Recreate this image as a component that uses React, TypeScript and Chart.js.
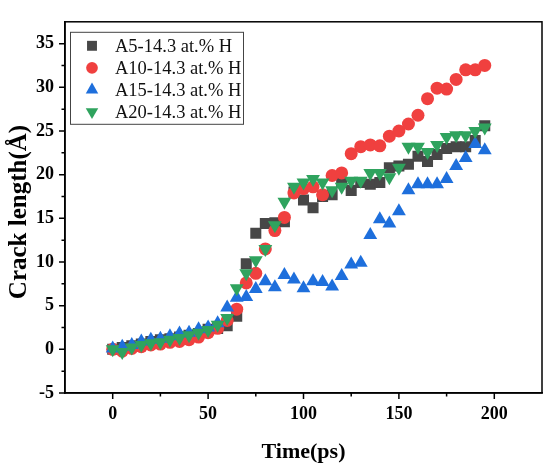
import { useEffect, useRef } from 'react';
import { Chart, registerables } from 'chart.js';

Chart.register(...registerables);

const times = [0, 5, 10, 15, 20, 25, 30, 35, 40, 45, 50, 55, 60, 65, 70, 75, 80, 85, 90, 95, 100, 105, 110, 115, 120, 125, 130, 135, 140, 145, 150, 155, 160, 165, 170, 175, 180, 185, 190, 195];

const a5 = [0.0, 0.2, 0.4, 0.6, 0.9, 1.1, 1.2, 1.4, 1.6, 1.8, 2.3, 2.4, 2.7, 3.8, 9.8, 13.3, 14.4, 14.5, 14.6, 18.0, 17.1, 16.2, 17.5, 17.7, 19.1, 18.2, 19.1, 18.9, 19.1, 20.8, 21.0, 21.2, 22.1, 21.5, 22.3, 23.0, 23.2, 23.2, 23.9, 25.6];
const a10 = [0.0, -0.2, 0.1, 0.3, 0.5, 0.6, 0.8, 0.9, 1.1, 1.4, 1.9, 2.4, 3.3, 4.6, 7.6, 8.7, 11.5, 13.6, 15.1, 17.9, 18.4, 18.6, 17.7, 19.9, 20.2, 22.4, 23.2, 23.4, 23.3, 24.4, 25.0, 25.8, 26.8, 28.7, 29.9, 29.8, 30.9, 32.0, 32.0, 32.5];
const a15 = [0.1, 0.3, 0.5, 0.9, 1.1, 1.2, 1.5, 1.8, 1.9, 2.3, 2.5, 3.0, 4.8, 5.9, 6.0, 6.9, 7.8, 7.1, 8.5, 8.0, 7.0, 7.8, 7.7, 7.2, 8.4, 9.7, 9.9, 13.1, 14.9, 14.4, 15.8, 18.2, 18.9, 18.9, 18.9, 19.5, 21.0, 21.9, 23.5, 22.8];
const a20 = [0.0, -0.3, 0.2, 0.5, 0.7, 0.8, 1.1, 1.3, 1.6, 1.9, 2.2, 2.8, 3.6, 7.0, 8.7, 10.2, 11.5, 14.2, 16.9, 18.6, 19.1, 19.5, 19.1, 18.2, 18.6, 19.3, 19.3, 20.2, 20.2, 19.7, 20.8, 23.2, 23.2, 22.6, 23.4, 24.3, 24.5, 24.5, 25.0, 25.4];

const seriesNames = ['A5-14.3 at.% H', 'A10-14.3 at.% H', 'A15-14.3 at.% H', 'A20-14.3 at.% H'];
const xTicks = [0, 50, 100, 150, 200];
const xMinorTicks = [25, 75, 125, 175];
const yTicks = [-5, 0, 5, 10, 15, 20, 25, 30, 35];
const yMinorTicks = [-2.5, 2.5, 7.5, 12.5, 17.5, 22.5, 27.5, 32.5];
const xTitle = 'Time(ps)';
const yTitle = 'Crack length(Å)';

const FONT = "'Liberation Serif', 'Times New Roman', serif";

const seriesValues = [a5, a10, a15, a20];
const seriesColors = ['#474747', '#f0403f', '#1e6fdc', '#2fa35e'];
const seriesStyles = ['rect', 'circle', 'triangle', 'triangle'];
const seriesRadius = [7.8, 6.5, 8, 8];
const seriesRotation = [0, 0, 0, 180];

function drawMarker(ctx: CanvasRenderingContext2D, style: string, x: number, y: number, r: number, rot: number, color: string) {
  ctx.save();
  ctx.fillStyle = color;
  ctx.beginPath();
  if (style === 'rect') {
    const s = r / Math.SQRT2;
    ctx.rect(x - s, y - s, 2 * s, 2 * s);
  } else if (style === 'circle') {
    ctx.arc(x, y, r, 0, Math.PI * 2);
  } else {
    let rad = (rot * Math.PI) / 180;
    ctx.moveTo(x + Math.sin(rad) * r, y - Math.cos(rad) * r);
    rad += (2 * Math.PI) / 3;
    ctx.lineTo(x + Math.sin(rad) * r, y - Math.cos(rad) * r);
    rad += (2 * Math.PI) / 3;
    ctx.lineTo(x + Math.sin(rad) * r, y - Math.cos(rad) * r);
    ctx.closePath();
  }
  ctx.fill();
  ctx.restore();
}

const framePlugin = {
  id: 'frame',
  afterDraw(chart: any) {
    const ctx: CanvasRenderingContext2D = chart.ctx;
    const area = chart.chartArea;
    const xs = chart.scales.x;
    const ys = chart.scales.y;
    ctx.save();
    ctx.strokeStyle = '#000';
    ctx.lineWidth = 1.5;
    ctx.strokeRect(area.left, area.top, area.right - area.left, area.bottom - area.top);
    ctx.beginPath();
    xTicks.forEach((v) => {
      const px = xs.getPixelForValue(v);
      ctx.moveTo(px, area.bottom);
      ctx.lineTo(px, area.bottom + 6);
    });
    xMinorTicks.forEach((v) => {
      const px = xs.getPixelForValue(v);
      ctx.moveTo(px, area.bottom);
      ctx.lineTo(px, area.bottom + 3.5);
    });
    yTicks.forEach((v) => {
      const py = ys.getPixelForValue(v);
      ctx.moveTo(area.left, py);
      ctx.lineTo(area.left - 6, py);
    });
    yMinorTicks.forEach((v) => {
      const py = ys.getPixelForValue(v);
      ctx.moveTo(area.left, py);
      ctx.lineTo(area.left - 3.5, py);
    });
    ctx.stroke();

    // axis titles
    ctx.fillStyle = '#000';
    ctx.font = `bold 22px ${FONT}`;
    ctx.textAlign = 'center';
    ctx.textBaseline = 'middle';
    ctx.fillText(xTitle, (area.left + area.right) / 2, 452);
    ctx.save();
    ctx.font = `bold 25px ${FONT}`;
    ctx.translate(20, 212);
    ctx.rotate(-Math.PI / 2);
    ctx.fillText(yTitle, 0, 0);
    ctx.restore();

    // legend
    const lx = area.left + 5;
    const ly = area.top + 10;
    ctx.lineWidth = 1;
    ctx.strokeStyle = '#444';
    ctx.strokeRect(lx + 0.5, ly + 0.5, 173, 92);
    ctx.font = `18.5px ${FONT}`;
    ctx.textAlign = 'left';
    ctx.fillStyle = '#111';
    seriesNames.forEach((name, i) => {
      const cy = ly + 14 + i * 22;
      drawMarker(ctx, seriesStyles[i], lx + 22, cy, seriesRadius[i] * 0.9, seriesRotation[i], seriesColors[i]);
      ctx.fillStyle = '#111';
      ctx.fillText(name, lx + 45, cy + 1);
    });
    ctx.restore();
  },
};

export default function App() {
  const ref = useRef<HTMLCanvasElement>(null);
  useEffect(() => {
    if (!ref.current) return;
    const datasets = seriesNames.map((name, i) => ({
      label: name,
      data: times.map((t, j) => ({ x: t, y: seriesValues[i][j] })),
      pointStyle: seriesStyles[i],
      pointRadius: seriesRadius[i],
      pointRotation: seriesRotation[i],
      pointBackgroundColor: seriesColors[i],
      pointBorderColor: seriesColors[i],
      pointBorderWidth: 0,
      backgroundColor: seriesColors[i],
      borderColor: seriesColors[i],
      showLine: false,
      order: 4 - i,
    }));
    const chart = new Chart(ref.current, {
      type: 'scatter',
      data: { datasets } as any,
      options: {
        animation: false,
        responsive: false,
        maintainAspectRatio: false,
        layout: { padding: { top: 6, right: 7, left: 0, bottom: 0 } },
        plugins: { legend: { display: false }, tooltip: { enabled: false } },
        scales: {
          x: {
            type: 'linear',
            min: -25,
            max: 225,
            afterBuildTicks: (s: any) => {
              s.ticks = xTicks.map((v) => ({ value: v }));
            },
            afterFit: (s: any) => {
              s.height = 74;
            },
            grid: { display: true, drawOnChartArea: false, drawTicks: false },
            border: { display: true, color: '#000', width: 1.5 },
            ticks: {
              font: { family: FONT, size: 18, weight: 'bold' },
              color: '#000',
              padding: 11,
              maxRotation: 0,
              autoSkip: false,
            },
          },
          y: {
            type: 'linear',
            min: -5,
            max: 37.5,
            afterBuildTicks: (s: any) => {
              s.ticks = yTicks.map((v) => ({ value: v }));
            },
            afterFit: (s: any) => {
              s.width = 65;
            },
            grid: { display: true, drawOnChartArea: false, drawTicks: false },
            border: { display: true, color: '#000', width: 1.5 },
            ticks: {
              font: { family: FONT, size: 18, weight: 'bold' },
              color: '#000',
              padding: 11,
              autoSkip: false,
            },
          },
        },
      } as any,
      plugins: [framePlugin],
    });
    return () => chart.destroy();
  }, []);
  return (
    <div style={{ position: 'absolute', left: 0, top: 0, width: 550, height: 467, background: '#fff' }}>
      <canvas ref={ref} width={550} height={467} style={{ width: 550, height: 467 }} />
    </div>
  );
}
